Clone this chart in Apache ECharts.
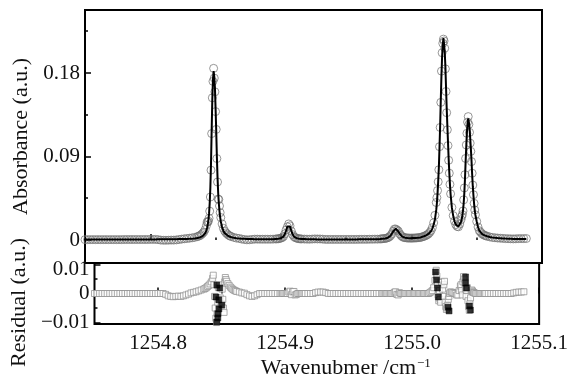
<!DOCTYPE html>
<html>
<head>
<meta charset="utf-8">
<script src="https://cdn.jsdelivr.net/npm/echarts@6/dist/echarts.min.js"></script>
<style>
  html, body { margin: 0; padding: 0; background: #fff; }
  #chart { width: 571px; height: 380px; }
</style>
</head>
<body>
<div id="chart"></div>
<script>
// Wavenumber grid of the scan (cm^-1)
const wavenumber = [
  1254.750,1254.752,1254.754,1254.756,1254.758,1254.760,1254.762,1254.764,1254.766,1254.768,
  1254.770,1254.772,1254.774,1254.776,1254.778,1254.780,1254.782,1254.784,1254.786,1254.788,
  1254.790,1254.792,1254.794,1254.796,1254.798,1254.800,1254.802,1254.804,1254.806,1254.808,
  1254.810,1254.812,1254.814,1254.816,1254.818,1254.820,1254.822,1254.824,1254.826,1254.828,
  1254.830,1254.832,1254.834,
  1254.836,1254.837,1254.838,1254.839,1254.840,1254.841,1254.842,1254.843,1254.8435,1254.844,
  1254.8445,1254.845,1254.8455,1254.846,1254.8465,1254.847,1254.8475,1254.848,1254.8485,1254.849,
  1254.8495,1254.850,1254.8505,1254.851,1254.8515,1254.852,1254.8525,1254.853,1254.8535,1254.854,
  1254.855,1254.856,1254.857,1254.858,1254.859,1254.860,1254.861,1254.862,
  1254.864,1254.866,1254.868,1254.870,1254.872,1254.874,1254.876,1254.878,1254.880,1254.882,
  1254.884,1254.886,1254.888,1254.890,1254.892,1254.894,
  1254.896,1254.897,1254.898,1254.899,1254.900,1254.901,1254.902,1254.903,1254.904,1254.905,
  1254.906,1254.907,1254.908,1254.909,1254.910,1254.911,1254.912,1254.913,1254.914,1254.915,1254.916,
  1254.918,1254.920,1254.922,1254.924,1254.926,1254.928,1254.930,1254.932,1254.934,1254.936,
  1254.938,1254.940,1254.942,1254.944,1254.946,1254.948,1254.950,1254.952,1254.954,1254.956,
  1254.958,1254.960,1254.962,1254.964,1254.966,1254.968,1254.970,1254.972,1254.974,1254.976,
  1254.977,1254.978,1254.979,1254.980,1254.981,1254.982,1254.983,1254.984,1254.985,1254.986,
  1254.987,1254.988,1254.989,1254.990,1254.991,1254.992,1254.993,1254.994,1254.995,1254.996,
  1254.997,1254.998,1254.999,
  1255.000,1255.001,1255.002,1255.003,1255.004,1255.005,1255.006,1255.007,1255.008,1255.009,
  1255.010,1255.011,1255.012,1255.013,1255.014,1255.015,1255.016,1255.017,1255.018,1255.019,
  1255.0195,1255.020,1255.0205,1255.021,1255.0215,1255.022,1255.0225,1255.023,1255.0235,1255.024,
  1255.0245,1255.025,1255.0255,1255.026,1255.0265,1255.027,1255.0275,1255.028,1255.0285,1255.029,1255.0295,
  1255.030,1255.031,1255.032,1255.033,1255.034,1255.035,1255.036,1255.037,1255.038,
  1255.0385,1255.039,1255.0395,1255.040,1255.0405,1255.041,1255.0415,1255.042,1255.0425,1255.043,
  1255.0435,1255.044,1255.0445,1255.045,1255.0455,1255.046,1255.0465,1255.047,1255.0475,1255.048,1255.0485,
  1255.049,1255.050,1255.051,1255.052,1255.053,1255.054,1255.055,1255.056,1255.057,1255.058,
  1255.060,1255.062,1255.064,1255.066,1255.068,1255.070,1255.072,1255.074,1255.076,1255.078,
  1255.080,1255.082,1255.084,1255.086,1255.088
];

// Measured absorbance (a.u.)
const absorbance = [
  0.0004,0.0004,0.0004,0.0004,0.0004,0.0004,0.0004,0.0004,0.0004,0.0004,
  0.0004,0.0004,0.0004,0.0004,0.0004,0.0005,0.0005,0.0005,0.0005,0.0005,
  0.0005,0.0005,0.0005,0.0005,0.0005,0.0006,0.0006,0.0006,0.0004,-0.0001,
  -0.0003,-0.0003,-0.0002,-0.0001,-0.0001,0.0001,0.0005,0.0009,0.0013,0.0016,
  0.0019,0.0023,0.0028,
  0.0036,0.0041,0.0047,0.0058,0.0070,0.0086,0.0112,0.0156,0.0194,0.0193,
  0.0203,0.0234,0.0311,0.0463,0.0753,0.1147,0.1532,0.1710,0.1850,0.1745,
  0.1597,0.1384,0.1192,0.0878,0.0625,0.0442,0.0436,0.0367,0.0295,0.0242,
  0.0173,0.0126,0.0096,0.0077,0.0064,0.0051,0.0044,0.0037,
  0.0028,0.0020,0.0017,0.0010,0.0005,0.0002,0.0003,0.0006,0.0009,0.0009,
  0.0008,0.0008,0.0008,0.0008,0.0008,0.0009,
  0.0011,0.0012,0.0013,0.0016,0.0020,0.0026,0.0037,0.0066,0.0109,0.0142,
  0.0173,0.0153,0.0096,0.0058,0.0037,0.0026,0.0020,0.0016,0.0013,0.0012,0.0011,
  0.0010,0.0009,0.0008,0.0010,0.0012,0.0011,0.0011,0.0009,0.0006,0.0006,
  0.0006,0.0006,0.0006,0.0006,0.0006,0.0006,0.0006,0.0006,0.0006,0.0006,
  0.0006,0.0007,0.0007,0.0007,0.0007,0.0008,0.0008,0.0009,0.0009,0.0010,
  0.0013,0.0014,0.0015,0.0017,0.0020,0.0025,0.0033,0.0046,0.0065,0.0095,
  0.0118,0.0118,0.0107,0.0095,0.0067,0.0049,0.0036,0.0028,0.0025,0.0023,
  0.0021,0.0021,0.0020,
  0.0020,0.0021,0.0021,0.0022,0.0023,0.0024,0.0026,0.0028,0.0032,0.0037,
  0.0041,0.0048,0.0056,0.0065,0.0081,0.0101,0.0133,0.0185,0.0266,0.0404,
  0.0456,0.0533,0.0627,0.0757,0.1006,0.1213,0.1483,0.1820,0.2018,0.2120,
  0.2165,0.2145,0.2067,0.1845,0.1601,0.1372,0.1188,0.1018,0.0859,0.0720,0.0600,
  0.0498,0.0351,0.0263,0.0204,0.0165,0.0146,0.0142,0.0172,0.0219,
  0.0253,0.0274,0.0313,0.0433,0.0561,0.0704,0.0879,0.1024,0.1150,0.1271,
  0.1330,0.1246,0.1160,0.1044,0.0955,0.0845,0.0720,0.0592,0.0488,0.0395,0.0323,
  0.0272,0.0200,0.0140,0.0100,0.0083,0.0067,0.0058,0.0050,0.0045,0.0040,
  0.0033,0.0027,0.0024,0.0021,0.0019,0.0017,0.0015,0.0014,0.0013,0.0012,
  0.0013,0.0015,0.0015,0.0015,0.0016
];

// Fitted profile (a.u.)
const fitted = [
  0.0004,0.0004,0.0004,0.0004,0.0004,0.0004,0.0004,0.0004,0.0004,0.0004,
  0.0004,0.0004,0.0004,0.0004,0.0004,0.0005,0.0005,0.0005,0.0005,0.0005,
  0.0005,0.0005,0.0005,0.0005,0.0005,0.0006,0.0006,0.0006,0.0007,0.0007,
  0.0007,0.0008,0.0008,0.0008,0.0009,0.0009,0.0010,0.0011,0.0011,0.0012,
  0.0013,0.0014,0.0016,
  0.0021,0.0024,0.0027,0.0034,0.0042,0.0053,0.0072,0.0104,0.0131,0.0163,
  0.0213,0.0284,0.0396,0.0563,0.0823,0.1177,0.1512,0.1730,0.1820,0.1760,
  0.1642,0.1419,0.1177,0.0898,0.0675,0.0507,0.0396,0.0312,0.0247,0.0200,
  0.0139,0.0098,0.0074,0.0059,0.0050,0.0040,0.0035,0.0030,
  0.0023,0.0018,0.0016,0.0014,0.0013,0.0012,0.0011,0.0010,0.0009,0.0009,
  0.0008,0.0008,0.0008,0.0008,0.0008,0.0009,
  0.0011,0.0012,0.0013,0.0016,0.0020,0.0026,0.0037,0.0061,0.0101,0.0146,
  0.0167,0.0146,0.0101,0.0061,0.0037,0.0026,0.0020,0.0016,0.0013,0.0012,0.0011,
  0.0010,0.0009,0.0008,0.0007,0.0007,0.0006,0.0006,0.0006,0.0006,0.0006,
  0.0006,0.0006,0.0006,0.0006,0.0006,0.0006,0.0006,0.0006,0.0006,0.0006,
  0.0006,0.0007,0.0007,0.0007,0.0007,0.0008,0.0008,0.0009,0.0009,0.0010,
  0.0013,0.0014,0.0015,0.0017,0.0020,0.0025,0.0033,0.0046,0.0065,0.0091,
  0.0112,0.0121,0.0112,0.0092,0.0067,0.0049,0.0036,0.0028,0.0025,0.0023,
  0.0021,0.0021,0.0020,
  0.0020,0.0021,0.0021,0.0022,0.0023,0.0024,0.0026,0.0028,0.0032,0.0037,
  0.0041,0.0048,0.0056,0.0065,0.0078,0.0095,0.0123,0.0165,0.0221,0.0324,
  0.0396,0.0503,0.0632,0.0782,0.0996,0.1233,0.1513,0.1780,0.1980,0.2105,
  0.2175,0.2115,0.2025,0.1875,0.1646,0.1427,0.1238,0.1058,0.0879,0.0730,0.0600,
  0.0493,0.0346,0.0260,0.0202,0.0165,0.0151,0.0147,0.0162,0.0194,
  0.0223,0.0264,0.0318,0.0393,0.0503,0.0654,0.0844,0.1009,0.1160,0.1261,
  0.1310,0.1271,0.1205,0.1102,0.0990,0.0860,0.0710,0.0580,0.0480,0.0390,0.0320,
  0.0270,0.0200,0.0140,0.0100,0.0083,0.0067,0.0058,0.0050,0.0045,0.0040,
  0.0033,0.0027,0.0024,0.0021,0.0019,0.0017,0.0015,0.0014,0.0013,0.0012,
  0.0011,0.0011,0.0010,0.0010,0.0010
];

// Residual = measured - fitted (a.u.)
const residual = [
  0,0,0,0,0,0,0,0,0,0,
  0,0,0,0,0,0,0,0,0,0,
  0,0,0,0,0,0,0,0,-0.0003,-0.0008,
  -0.0010,-0.0011,-0.0010,-0.0009,-0.0010,-0.0008,-0.0005,-0.0002,0.0002,0.0004,
  0.0006,0.0009,0.0012,
  0.0015,0.0017,0.0020,0.0024,0.0028,0.0033,0.0040,0.0052,0.0063,0.0030,
  -0.0010,-0.0050,-0.0085,-0.0100,-0.0070,-0.0030,0.0020,-0.0020,0.0030,-0.0015,
  -0.0045,-0.0035,0.0015,-0.0020,-0.0050,-0.0065,0.0040,0.0055,0.0048,0.0042,
  0.0034,0.0028,0.0022,0.0018,0.0014,0.0011,0.0009,0.0007,
  0.0005,0.0002,0.0001,-0.0004,-0.0008,-0.0010,-0.0008,-0.0004,0,0,
  0,0,0,0,0,0,
  0,0,0,0,0,0,0,0.0005,0.0008,-0.0004,
  0.0006,0.0007,-0.0005,-0.0003,0,0,0,0,0,0,0,
  0,0,0,0.0003,0.0005,0.0005,0.0005,0.0003,0,0,
  0,0,0,0,0,0,0,0,0,0,
  0,0,0,0,0,0,0,0,0,0,
  0,0,0,0,0,0,0,0,0,0.0004,
  0.0006,-0.0003,-0.0005,0.0003,0,0,0,0,0,0,
  0,0,0,
  0,0,0,0,0,0,0,0,0,0,
  0,0,0,0,0.0003,0.0006,0.0010,0.0020,0.0045,0.0080,
  0.0060,0.0030,-0.0005,-0.0025,0.0010,-0.0020,-0.0030,0.0040,0.0038,0.0015,
  -0.0010,0.0030,0.0042,-0.0030,-0.0045,-0.0055,-0.0050,-0.0040,-0.0020,-0.0010,0,
  0.0005,0.0005,0.0003,0.0002,0,-0.0005,-0.0005,0.0010,0.0025,
  0.0030,0.0010,-0.0005,0.0040,0.0058,0.0050,0.0035,0.0015,-0.0010,0.0010,
  0.0020,-0.0025,-0.0045,-0.0058,-0.0035,-0.0015,0.0010,0.0012,0.0008,0.0005,0.0003,
  0.0002,0,0,0,0,0,0,0,0,0,
  0,0,0,0,0,0,0,0,0,0,
  0.0002,0.0004,0.0005,0.0005,0.0006
];

// Residual points drawn as filled squares around the strong lines
const residualCoreX = [
  1254.8456,1254.8463,1254.8471,1254.8479,1254.8486,1254.8502,1254.8479,1254.8463,1254.8471,
  1255.0185,1255.0192,1255.0200,1255.0207,1255.0283,1255.0291,
  1255.0421,1255.0428,1255.0421,1255.0451,1255.0459
];
const residualCoreY = [
  -0.0012,0.0029,-0.0084,-0.0022,0.0019,-0.0040,-0.0053,-0.0098,-0.0070,
  0.0074,0.0047,0.0019,-0.0012,-0.0047,-0.0060,
  0.0057,0.0019,0.0036,-0.0043,-0.0057
];

// Axis ticks
const xMajorTicks = [1254.8, 1254.9, 1255.0, 1255.1];
const xMinorTicks = [1254.85, 1254.95, 1255.05];
const absMajorTicks = [0, 0.09, 0.18];
const absMinorTicks = [0.045, 0.135, 0.225];
const resMajorTicks = [-0.01, 0, 0.01];
const resMinorTicks = [-0.005, 0.005];

const FONT = 'Liberation Serif';
const X_MIN = 1254.75, X_MAX = 1255.1;
const ABS_MIN = -0.0248, ABS_MAX = 0.2479;
const RES_MIN = -0.0105, RES_MAX = 0.0105;

const pair = (xs, ys) => xs.map((x, i) => [x, ys[i]]);
const nameStyle = { fontFamily: FONT, fontSize: 22, color: '#111' };

function tickAxis(grid, values, len, extra) {
  return Object.assign({
    type: 'value',
    gridIndex: grid,
    axisLine: { show: false },
    splitLine: { show: false },
    axisTick: { show: true, inside: true, length: len, customValues: values,
                lineStyle: { color: '#000', width: 1.5 } },
    axisLabel: { show: false }
  }, extra);
}

const xRange = { min: X_MIN, max: X_MAX };
const absRange = { min: ABS_MIN, max: ABS_MAX };
const resRange = { min: RES_MIN, max: RES_MAX };

const option = {
  animation: false,
  backgroundColor: '#fff',
  grid: [
    { left: 85, right: 29, top: 10, height: 253, show: true, borderColor: '#000', borderWidth: 2 },
    { left: 85, right: 29, top: 263, height: 61, show: true, borderColor: '#000', borderWidth: 2 }
  ],
  xAxis: [
    tickAxis(0, xMajorTicks, 6, Object.assign({ position: 'bottom' }, xRange)),
    tickAxis(0, xMinorTicks, 2.5, Object.assign({ position: 'bottom' }, xRange)),
    tickAxis(1, xMajorTicks, 6, Object.assign({
      position: 'bottom',
      axisLabel: {
        show: true, customValues: xMajorTicks, margin: 9,
        formatter: v => v.toFixed(1),
        fontFamily: FONT, fontSize: 21, color: '#111'
      },
      name: '{n|Wavenubmer /cm}{s|\u22121}',
      nameLocation: 'middle',
      nameGap: 33,
      nameTextStyle: {
        padding: [0, 0, 0, 58],
        rich: {
          n: { fontFamily: FONT, fontSize: 22, color: '#111' },
          s: { fontFamily: FONT, fontSize: 13, color: '#111', padding: [0, 0, 9, 1] }
        }
      }
    }, xRange)),
    tickAxis(1, xMinorTicks, 2.5, Object.assign({ position: 'bottom' }, xRange))
  ],
  yAxis: [
    tickAxis(0, absMajorTicks, 6, Object.assign({
      position: 'left',
      axisLabel: {
        show: true, customValues: absMajorTicks, margin: 5,
        formatter: v => (v === 0 ? '0' : v.toFixed(2)),
        fontFamily: FONT, fontSize: 21, color: '#111'
      },
      name: 'Absorbance (a.u.)',
      nameLocation: 'middle',
      nameGap: 50,
      nameTextStyle: nameStyle
    }, absRange)),
    tickAxis(0, absMinorTicks, 3, Object.assign({ position: 'left' }, absRange)),
    tickAxis(1, resMajorTicks, 6, Object.assign({
      position: 'left',
      axisLabel: {
        show: true, customValues: resMajorTicks, margin: 5,
        formatter: v => {
          if (v === 0) return '0';
          const s = Math.abs(v).toFixed(2);
          return v < 0 ? '\u2212' + s : '{top|' + s + '}';
        },
        fontFamily: FONT, fontSize: 21, color: '#111',
        rich: { top: { fontFamily: FONT, fontSize: 21, color: '#111', padding: [10, 0, 0, 0] } }
      },
      name: 'Residual (a.u.)',
      nameLocation: 'middle',
      nameGap: 50,
      nameTextStyle: Object.assign({ padding: [0, 18, 0, 0] }, nameStyle)
    }, resRange)),
    tickAxis(1, resMinorTicks, 3, Object.assign({ position: 'left' }, resRange))
  ],
  series: [
    {
      name: 'Measured',
      type: 'scatter',
      xAxisIndex: 0, yAxisIndex: 0,
      data: pair(wavenumber, absorbance),
      symbol: 'circle',
      symbolSize: 8,
      itemStyle: { color: 'rgba(255,255,255,0)', borderColor: '#6e6e6e', borderWidth: 0.9 },
      z: 2
    },
    {
      name: 'Fit',
      type: 'line',
      xAxisIndex: 0, yAxisIndex: 0,
      data: pair(wavenumber, fitted),
      showSymbol: false,
      lineStyle: { color: '#000', width: 2 },
      z: 3
    },
    {
      name: 'Residual',
      type: 'scatter',
      xAxisIndex: 2, yAxisIndex: 2,
      data: pair(wavenumber, residual),
      symbol: 'rect',
      symbolSize: 6,
      itemStyle: { color: '#fff', borderColor: '#8c8c8c', borderWidth: 0.9 },
      z: 2
    },
    {
      name: 'Residual core',
      type: 'scatter',
      xAxisIndex: 2, yAxisIndex: 2,
      data: pair(residualCoreX, residualCoreY),
      symbol: 'rect',
      symbolSize: 6,
      itemStyle: { color: '#000', borderColor: '#000', borderWidth: 0.5 },
      z: 3
    }
  ]
};

const chart = echarts.init(document.getElementById('chart'), null, { renderer: 'canvas' });
chart.setOption(option);
</script>
</body>
</html>
